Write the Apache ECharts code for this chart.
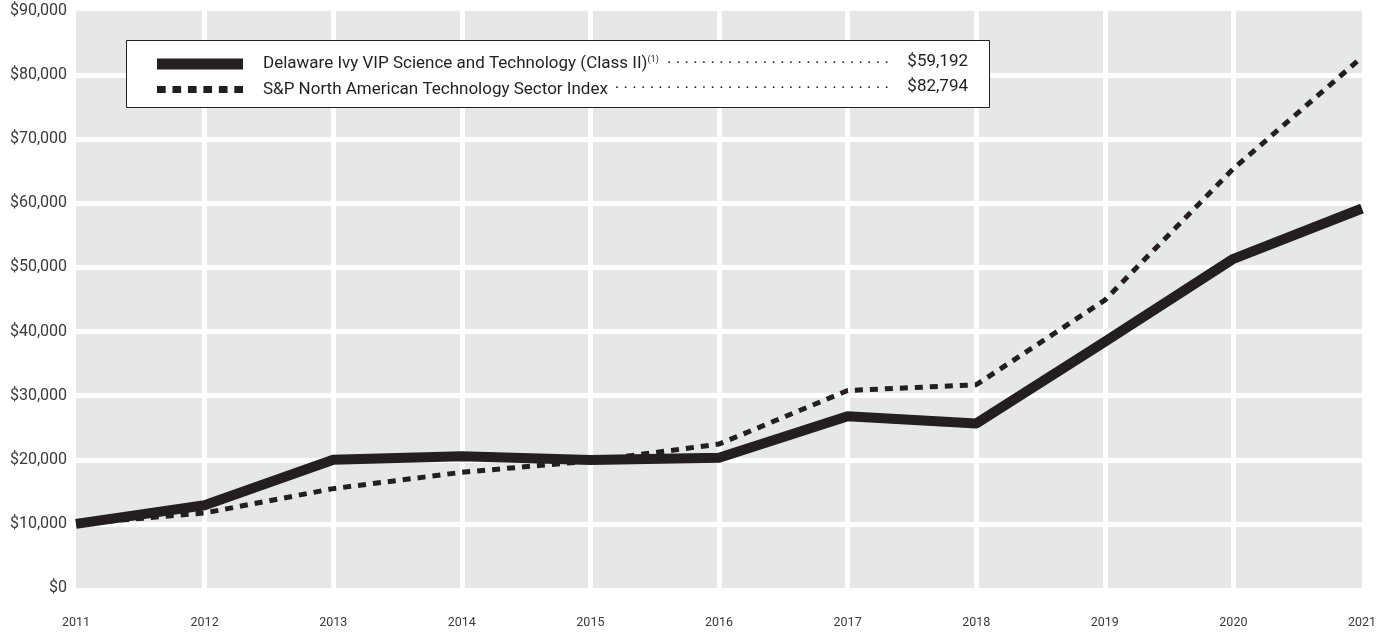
<!DOCTYPE html>
<html>
<head>
<meta charset="utf-8">
<style>
  html, body { margin: 0; padding: 0; background: #fff; }
  #chart-container { width: 1390px; height: 632px; }
</style>
<script src="https://cdn.jsdelivr.net/npm/echarts@6/dist/echarts.min.js"></script>
</head>
<body>
<div id="chart-container"></div>
<script>
var years = ['2011', '2012', '2013', '2014', '2015', '2016', '2017', '2018', '2019', '2020', '2021'];
var fundName = 'Delaware Ivy VIP Science and Technology (Class II)';
var indexName = 'S&P North American Technology Sector Index';
var fundValues = [10000, 12900, 20000, 20550, 19950, 20300, 26800, 25650, 38400, 51350, 59192];
var indexValues = [10000, 11700, 15500, 18050, 19800, 22450, 30800, 31700, 44900, 65400, 82794];

var ink = '#231f20';
var font = 'Roboto';

var dom = document.getElementById('chart-container');
var myChart = echarts.init(dom, null, { renderer: 'canvas' });

var money = (v) => '$' + v.toLocaleString('en-US');
var dots = (n) => new Array(n + 1).join(' .');

var option = {
  animation: false,
  grid: {
    left: 76, right: 28, top: 11, bottom: 44,
    show: true, backgroundColor: '#e6e7e8', borderWidth: 0
  },
  xAxis: {
    type: 'category',
    data: years,
    boundaryGap: false,
    axisLine: { show: false },
    axisTick: { show: false },
    axisLabel: { margin: 28, color: '#3a3a3a', fontFamily: font, fontSize: 12.5 },
    splitLine: { show: true, showMinLine: false, showMaxLine: false, lineStyle: { color: '#fff', width: 5 } }
  },
  yAxis: {
    type: 'value',
    min: 0, max: 90000, interval: 10000,
    axisLine: { show: false },
    axisTick: { show: false },
    axisLabel: { margin: 9, color: '#3a3a3a', fontFamily: font, fontSize: 16, formatter: money },
    splitLine: { show: true, showMinLine: false, showMaxLine: false, lineStyle: { color: '#fff', width: 5 } }
  },
  legend: [
    {
      data: [{ name: fundName, icon: 'rect' }],
      left: 152, top: 50,
      itemWidth: 86, itemHeight: 11, itemGap: 20,
      selectedMode: false,
      formatter: () => fundName + '{s|(1)}',
      textStyle: {
        color: ink, fontFamily: font, fontSize: 17, backgroundColor: '#fff', padding: [0, 6, 0, 15],
        rich: { s: { fontSize: 9, verticalAlign: 'top', padding: [0, 0, 9, 0], color: ink, fontFamily: font } }
      }
    },
    {
      data: [{ name: indexName, icon: 'path://M0 0h9v7h-9zM16 0h9v7h-9zM32 0h9v7h-9zM48 0h9v7h-9zM64 0h9v7h-9zM80 0h9v7h-9z' }],
      left: 152, top: 76,
      itemWidth: 86, itemHeight: 7, itemGap: 20,
      selectedMode: false,
      textStyle: { color: ink, fontFamily: font, fontSize: 17, backgroundColor: '#fff', padding: [0, 6, 0, 15] }
    }
  ],
  graphic: [
    {
      type: 'rect', left: 126, top: 40, z: 1,
      shape: { width: 863, height: 67 },
      style: { fill: '#fff', stroke: ink, lineWidth: 1 }
    },
    {
      type: 'text', right: 1390 - 889, top: 50, z: 2,
      style: { text: dots(40), fill: ink, font: '17px ' + font }
    },
    {
      type: 'text', right: 1390 - 889, top: 75, z: 2,
      style: { text: dots(40), fill: ink, font: '17px ' + font }
    },
    {
      type: 'text', right: 1390 - 968, top: 53, z: 2,
      style: { text: money(fundValues[fundValues.length - 1]), fill: ink, font: '17px ' + font }
    },
    {
      type: 'text', right: 1390 - 968, top: 78, z: 2,
      style: { text: money(indexValues[indexValues.length - 1]), fill: ink, font: '17px ' + font }
    }
  ],
  series: [
    {
      name: indexName,
      type: 'line',
      data: indexValues,
      symbol: 'none',
      color: ink,
      z: 2,
      lineStyle: { color: ink, width: 5, type: [8, 7], cap: 'butt' }
    },
    {
      name: fundName,
      type: 'line',
      data: fundValues,
      symbol: 'none',
      color: ink,
      z: 3,
      lineStyle: { color: ink, width: 10, join: 'round' }
    }
  ]
};

myChart.setOption(option);
window.addEventListener('resize', myChart.resize);
</script>
</body>
</html>
